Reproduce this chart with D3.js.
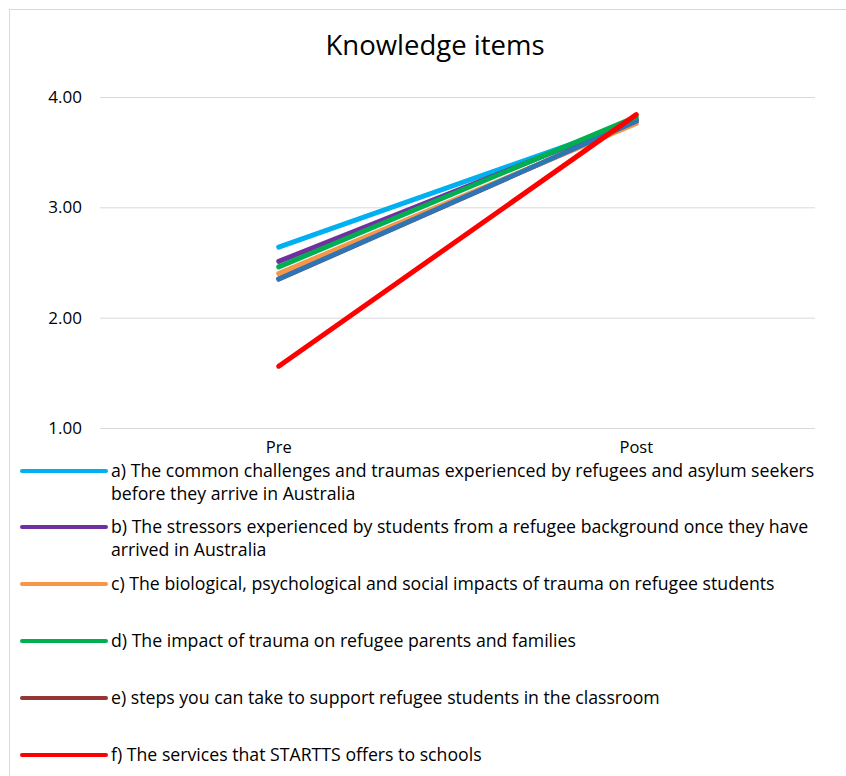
<!DOCTYPE html>
<html>
<head>
<meta charset="utf-8">
<script src="https://cdn.jsdelivr.net/npm/d3@7"></script>
<style>
  html, body { margin: 0; padding: 0; background: #fff; }
  svg { display: block; }
  text { font-family: "Open Sans", Lato, sans-serif; fill: #000; }
</style>
</head>
<body>
<svg id="chart" width="846" height="776"></svg>
<script>
// Mean knowledge ratings before and after training
const timepoints = ["Pre", "Post"];
const yTicks = [1, 2, 3, 4];

const seriesNames = ["a", "b", "c", "d", "e", "f", "g"];
const seriesColors = ["#00B0F0", "#7030A0", "#F79646", "#00B050", "#943634", "#FF0000", "#2E75B6"];
const preValues  = [2.64, 2.51, 2.40, 2.46, 2.35, 1.56, 2.35];
const postValues = [3.78, 3.80, 3.76, 3.82, 3.78, 3.84, 3.78];

// Legend text, one array entry per wrapped line
const legendLines = [
  ["a) The common challenges and traumas experienced by refugees and asylum seekers", "before they arrive in Australia"],
  ["b) The stressors experienced by students from a refugee background once they have", "arrived in Australia"],
  ["c) The biological, psychological and social impacts of trauma on refugee students"],
  ["d) The impact of trauma on refugee parents and families"],
  ["e) steps you can take to support refugee students in the classroom"],
  ["f) The services that STARTTS offers to schools"]
];

const FONT = "'Open Sans', Lato, sans-serif";
const svg = d3.select("#chart");

// outer chart frame
svg.append("rect")
  .attr("x", 9.5).attr("y", 9.5)
  .attr("width", 846).attr("height", 790)
  .attr("fill", "none").attr("stroke", "#d9d9d9").attr("stroke-width", 1);

svg.append("text")
  .attr("x", 435).attr("y", 45)
  .attr("dy", "0.35em")
  .attr("text-anchor", "middle")
  .style("font-size", "27.5px")
  .text("Knowledge items");

const plot = { left: 100, right: 815, top: 97, bottom: 428 };

const x = d3.scaleBand().domain(timepoints).range([plot.left, plot.right]);
const y = d3.scaleLinear().domain([1, 4]).range([plot.bottom, plot.top]);

// gridlines + y labels
const yAxis = d3.axisLeft(y).tickValues(yTicks)
  .tickFormat(d3.format(".2f"))
  .tickSize(-(plot.right - plot.left)).tickPadding(18);
const gy = svg.append("g").attr("transform", `translate(${plot.left},0)`).call(yAxis);
gy.select(".domain").remove();
gy.selectAll(".tick line").attr("stroke", "#d9d9d9").attr("stroke-width", 1);
gy.selectAll(".tick text").style("font-size", "17px").attr("fill", "#000")
  .style("font-family", FONT);

// category labels
const xAxis = d3.axisBottom(x).tickSize(0).tickPadding(13);
const gx = svg.append("g").attr("transform", `translate(0,${plot.bottom})`).call(xAxis);
gx.select(".domain").remove();
gx.selectAll(".tick text").style("font-size", "16.5px").attr("fill", "#000")
  .style("font-family", FONT);

// series lines
const line = d3.line()
  .x(d => x(d.t) + x.bandwidth() / 2)
  .y(d => y(d.v));

const series = seriesNames.map((n, i) => ({
  name: n,
  color: seriesColors[i],
  points: [{ t: timepoints[0], v: preValues[i] }, { t: timepoints[1], v: postValues[i] }]
}));

// draw order: underlying lines first, red on top
const drawOrder = [4, 0, 1, 2, 6, 3, 5];
svg.append("g").selectAll("path")
  .data(drawOrder.map(i => series[i]))
  .join("path")
  .attr("d", d => line(d.points))
  .attr("fill", "none")
  .attr("stroke", d => d.color)
  .attr("stroke-width", 5)
  .attr("stroke-linecap", "round");

// legend
const legendTop = [471, 527, 584, 641, 698, 755];
const lg = svg.append("g");
legendLines.forEach((lines, i) => {
  const yy = legendTop[i];
  lg.append("line")
    .attr("x1", 22).attr("x2", 106)
    .attr("y1", yy).attr("y2", yy)
    .attr("stroke", seriesColors[i]).attr("stroke-width", 4)
    .attr("stroke-linecap", "round");
  lines.forEach((txt, j) => {
    lg.append("text")
      .attr("x", 111).attr("y", yy + 23 * j)
      .attr("dy", "0.35em")
      .style("font-size", "17.7px")
      .text(txt);
  });
});
</script>
</body>
</html>
